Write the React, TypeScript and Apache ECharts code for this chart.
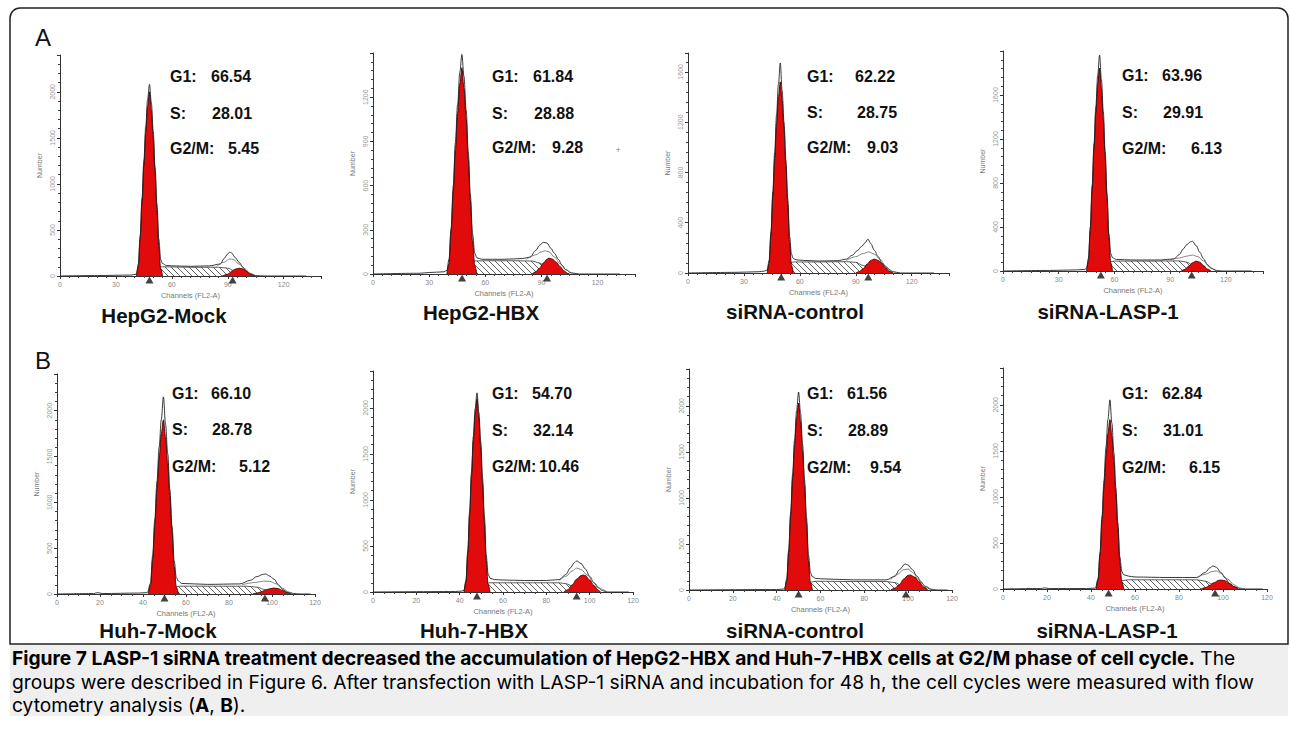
import React, { useEffect, useRef } from "react";
import * as echarts from "echarts";

// ---------- text content ----------
const PANEL_TITLES = ["HepG2-Mock", "HepG2-HBX", "siRNA-control", "siRNA-LASP-1", "Huh-7-Mock", "Huh-7-HBX", "siRNA-control", "siRNA-LASP-1"];
const G1_VALUES = ["66.54", "61.84", "62.22", "63.96", "66.10", "54.70", "61.56", "62.84"];
const S_VALUES = ["28.01", "28.88", "28.75", "29.91", "28.78", "32.14", "28.89", "31.01"];
const G2M_VALUES = ["5.45", "9.28", "9.03", "6.13", "5.12", "10.46", "9.54", "6.15"];

// ---------- axes ----------
const X_MAX = [140, 140, 140, 140, 120, 120, 120, 120];
const X_INTERVAL = [30, 30, 30, 30, 20, 20, 20, 20];
const Y_MAX = [2400, 1500, 1750, 2000, 2400, 2400, 2400, 2400];
const Y_INTERVAL = [500, 300, 400, 400, 500, 500, 500, 500];

// ---------- histogram data (channel, count) ----------
// Panel 1: HepG2-Mock
const P1_G1 = [[41, 0], [42, 100], [43, 400], [44, 800], [45, 1200], [46, 1560], [47, 1840], [48, 2000], [49, 1800], [50, 1500], [51, 1120], [52, 720], [53, 320], [54, 80], [55, 0]];
const P1_G2 = [[87, 0], [90, 20], [92, 50], [94, 75], [96, 85], [98, 78], [100, 55], [102, 25], [104, 8], [105, 0]];
const P1_S = [[44, 0], [46, 30], [48, 70], [51, 95], [55, 100], [70, 95], [85, 95], [90, 85], [93, 60], [96, 30], [99, 10], [102, 0]];
const P1_TOTAL = [[0, 0], [20, 5], [38, 10], [41, 20], [42, 130], [43, 440], [44, 850], [45, 1260], [46, 1630], [47, 1920], [48, 2080], [49, 1880], [50, 1570], [51, 1180], [52, 780], [53, 400], [54, 180], [55, 135], [57, 115], [60, 110], [70, 105], [80, 110], [86, 130], [88, 190], [90, 240], [91, 260], [92, 250], [94, 200], [96, 150], [98, 100], [100, 50], [102, 20], [105, 5], [110, 0], [132, 0]];
const P1_MID = [[84, 105], [88, 150], [91, 185], [93, 180], [96, 130], [99, 80], [102, 30], [105, 5], [107, 0]];
const P1_MARKS = [48, 92.6];

// Panel 2: HepG2-HBX
const P2_G1 = [[39.5, 0], [40.6, 70], [41.7, 280], [42.9, 560], [44, 840], [45.2, 1090], [46.4, 1290], [47.5, 1400], [48.6, 1260], [49.8, 1050], [50.9, 780], [52, 500], [53.2, 220], [54.4, 55], [55.5, 0]];
const P2_G2 = [[85, 0], [87, 15], [89, 40], [91, 75], [93, 100], [94, 108], [96, 100], [98, 80], [100, 50], [102, 22], [104, 5], [105, 0]];
const P2_S = [[43, 0], [46, 30], [49, 65], [53, 88], [60, 90], [75, 90], [85, 88], [89, 75], [92, 50], [95, 25], [98, 8], [100, 0]];
const P2_TOTAL = [[0, 0], [25, 5], [30, 10], [38, 15], [39.5, 25], [40.6, 100], [41.7, 310], [42.9, 600], [44, 890], [45.2, 1150], [46.4, 1370], [47.5, 1490], [48.6, 1340], [49.8, 1110], [50.9, 830], [52, 540], [53.2, 270], [54.4, 140], [55.5, 110], [58, 100], [70, 100], [80, 105], [84, 115], [87, 160], [89, 195], [91, 215], [93, 210], [95, 175], [97, 140], [99, 100], [101, 60], [103, 30], [106, 8], [110, 0], [132, 0]];
const P2_MID = [[82, 100], [87, 130], [90, 150], [92, 158], [94, 150], [97, 115], [100, 70], [103, 30], [106, 5], [108, 0]];
const P2_MARKS = [47.6, 93];

// Panel 3: siRNA-control (HepG2)
const P3_G1 = [[42.5, 0], [43.5, 76], [44.5, 300], [45.5, 610], [46.5, 910], [47.5, 1190], [48.5, 1400], [49.5, 1520], [50.5, 1370], [51.5, 1140], [52.5, 850], [53.5, 550], [54.5, 240], [55.5, 60], [56.5, 0]];
const P3_G2 = [[90, 0], [92, 12], [94, 35], [96, 70], [98, 100], [100, 111], [102, 100], [104, 75], [106, 40], [108, 15], [110, 0]];
const P3_S = [[46, 0], [49, 40], [53, 75], [57, 88], [70, 88], [85, 90], [90, 85], [94, 60], [97, 35], [100, 15], [103, 0]];
const P3_TOTAL = [[0, 0], [25, 5], [38, 10], [41, 15], [42.5, 25], [43.5, 100], [44.5, 330], [45.5, 650], [46.5, 960], [47.5, 1260], [48.5, 1500], [49.5, 1670], [50.5, 1450], [51.5, 1200], [52.5, 900], [53.5, 590], [54.5, 290], [55.5, 150], [56.5, 115], [58, 105], [62, 100], [70, 95], [80, 98], [85, 110], [88, 140], [91, 180], [93, 210], [95, 240], [96.5, 270], [98, 235], [100, 180], [102, 130], [104, 80], [107, 35], [110, 10], [114, 0], [132, 0]];
const P3_MID = [[85, 100], [90, 130], [94, 155], [97, 167], [100, 150], [103, 110], [106, 55], [109, 15], [112, 0]];
const P3_MARKS = [50, 96.7];

// Panel 4: siRNA-LASP-1 (HepG2)
const P4_G1 = [[45, 0], [46, 92], [47, 370], [48, 740], [49, 1110], [50, 1440], [51, 1700], [52, 1845], [53, 1660], [54, 1380], [55, 1030], [56, 660], [57, 300], [58, 75], [59, 0]];
const P4_G2 = [[96, 0], [98, 15], [100, 45], [102, 75], [104, 90], [106, 80], [108, 50], [110, 18], [112, 0]];
const P4_S = [[49, 0], [52, 40], [56, 78], [60, 90], [80, 90], [95, 92], [99, 80], [102, 55], [105, 25], [108, 8], [110, 0]];
const P4_TOTAL = [[0, 0], [25, 5], [40, 10], [44, 15], [45, 25], [46, 115], [47, 400], [48, 780], [49, 1160], [50, 1500], [51, 1780], [52, 1963], [53, 1740], [54, 1450], [55, 1090], [56, 710], [57, 340], [58, 160], [59, 120], [61, 105], [70, 100], [85, 100], [92, 110], [95, 150], [97, 200], [99, 240], [101, 265], [102, 270], [104, 230], [106, 170], [108, 110], [110, 60], [112, 25], [115, 5], [118, 0], [134, 0]];
const P4_MID = [[90, 100], [95, 118], [99, 135], [102, 145], [105, 130], [108, 90], [111, 40], [114, 8], [116, 0]];
const P4_MARKS = [52.7, 101.6];

// Panel 5: Huh-7-Mock
const P5_G1 = [[42.5, 0], [43.5, 95], [44.5, 380], [45.5, 760], [46.5, 1140], [47.5, 1480], [48.5, 1750], [49.5, 1900], [50.5, 1710], [51.5, 1420], [52.5, 1060], [53.5, 680], [54.5, 300], [55.5, 75], [56.5, 0]];
const P5_G2 = [[91, 0], [93, 10], [95, 25], [97, 45], [99, 58], [101, 65], [103, 58], [105, 38], [107, 15], [109, 0]];
const P5_S = [[46, 0], [49, 30], [53, 70], [57, 85], [75, 85], [88, 85], [93, 75], [97, 45], [100, 20], [103, 5], [105, 0]];
const P5_TOTAL = [[0, 0], [17, 5], [19, 15], [21, 5], [38, 10], [42, 15], [43.5, 120], [44.5, 420], [45.5, 820], [46.5, 1230], [47.5, 1600], [48.5, 1900], [49.5, 2150], [50.5, 1850], [51.5, 1530], [52.5, 1140], [53.5, 740], [54.5, 360], [55.5, 180], [56.5, 140], [58, 115], [70, 105], [85, 110], [90, 150], [93, 190], [96, 215], [97, 218], [99, 195], [101, 160], [103, 100], [105, 50], [107, 20], [110, 5], [113, 0], [118, 0]];
const P5_MID = [[86, 100], [92, 125], [96, 140], [99, 138], [102, 110], [105, 60], [108, 20], [110, 0]];
const P5_MARKS = [50, 96.7];

// Panel 6: Huh-7-HBX
const P6_G1 = [[42, 0], [42.9, 105], [43.75, 420], [44.6, 840], [45.45, 1260], [46.3, 1640], [47.15, 1930], [48, 2100], [48.85, 1890], [49.7, 1580], [50.55, 1180], [51.4, 760], [52.25, 340], [53.1, 85], [54, 0]];
const P6_G2 = [[88, 0], [90, 25], [92, 80], [94, 140], [96, 178], [97, 185], [98, 178], [100, 130], [102, 70], [104, 20], [105, 0]];
const P6_S = [[45, 0], [48, 40], [51, 80], [54, 100], [70, 100], [86, 100], [89, 90], [92, 65], [95, 35], [98, 12], [100, 0]];
const P6_TOTAL = [[0, 0], [38, 5], [41, 10], [42, 20], [42.9, 130], [43.75, 450], [44.6, 880], [45.45, 1300], [46.3, 1690], [47.15, 1990], [48, 2163], [48.85, 1950], [49.7, 1640], [50.55, 1240], [51.4, 820], [52.25, 400], [53.1, 200], [54, 150], [56, 135], [60, 130], [70, 125], [80, 125], [86, 135], [89, 190], [91, 260], [93, 320], [94, 337], [96, 310], [98, 250], [100, 170], [102, 100], [104, 45], [106, 15], [108, 0], [118, 0]];
const P6_MID = [[86, 125], [89, 170], [92, 230], [94, 260], [96, 245], [99, 180], [102, 100], [105, 35], [108, 0]];
const P6_MARKS = [48, 94];

// Panel 7: siRNA-control (Huh-7)
const P7_G1 = [[43.7, 0], [44.6, 100], [45.5, 410], [46.4, 810], [47.3, 1220], [48.2, 1580], [49.1, 1870], [50, 2030], [50.9, 1830], [51.8, 1520], [52.7, 1140], [53.6, 730], [54.5, 320], [55.4, 80], [56.3, 0]];
const P7_G2 = [[92, 0], [94, 20], [96, 60], [98, 120], [100, 160], [101, 163], [103, 140], [105, 90], [107, 35], [109, 0]];
const P7_S = [[47, 0], [50, 40], [54, 80], [58, 95], [75, 92], [90, 92], [94, 80], [97, 50], [100, 20], [103, 5], [105, 0]];
const P7_TOTAL = [[0, 0], [40, 5], [43, 10], [43.7, 20], [44.6, 125], [45.5, 440], [46.4, 850], [47.3, 1270], [48.2, 1640], [49.1, 1950], [50, 2150], [50.9, 1920], [51.8, 1590], [52.7, 1200], [53.6, 790], [54.5, 380], [55.4, 190], [56.3, 145], [58, 125], [62, 120], [75, 110], [90, 110], [94, 150], [96, 220], [98.6, 283], [100, 270], [102, 220], [104, 150], [106, 80], [108, 35], [110, 10], [113, 0], [118, 0]];
const P7_MID = [[92, 110], [95, 170], [98, 220], [100, 228], [102, 190], [105, 110], [108, 40], [111, 5], [113, 0]];
const P7_MARKS = [50, 99];

// Panel 8: siRNA-LASP-1 (Huh-7)
const P8_G1 = [[42.3, 0], [43.2, 92], [44.1, 370], [45, 740], [45.9, 1100], [46.8, 1440], [47.7, 1690], [48.6, 1840], [49.5, 1660], [50.4, 1380], [51.3, 1030], [52.2, 660], [53.1, 290], [54, 75], [54.9, 0]];
const P8_G2 = [[90, 0], [92, 15], [94, 40], [96, 70], [98, 95], [99, 98], [101, 90], [103, 60], [105, 25], [107, 0]];
const P8_S = [[46, 0], [49, 40], [53, 85], [57, 100], [75, 100], [88, 100], [92, 85], [95, 55], [98, 25], [101, 8], [103, 0]];
const P8_TOTAL = [[0, 0], [17, 5], [19, 12], [21, 5], [38, 5], [42, 10], [43.2, 115], [44.1, 400], [45, 790], [45.9, 1180], [46.8, 1540], [47.7, 1840], [48.6, 2054], [49.5, 1800], [50.4, 1480], [51.3, 1100], [52.2, 720], [53.1, 350], [54, 190], [54.9, 155], [57, 140], [60, 130], [75, 125], [88, 125], [92, 180], [94, 230], [95.5, 250], [97, 235], [99, 180], [101, 120], [103, 60], [105, 25], [108, 5], [110, 0], [118, 0]];
const P8_MID = [[88, 120], [92, 160], [95, 190], [97, 196], [99, 170], [102, 110], [105, 45], [108, 8], [110, 0]];
const P8_MARKS = [48, 96.4];

// ---------- layout (px) ----------
const GRID_LAYOUT = [
  [60, 55, 261, 221],
  [373, 53, 262, 221],
  [688, 53, 261, 220],
  [1003, 51, 260, 220],
  [57, 374, 258, 220],
  [373, 371, 260, 221],
  [689, 369, 263, 221],
  [1003, 368, 264, 221],
];
// [labelX, g1ValueX, sValueX, g2mValueX, yG1, yS, yG2M]
const STAT_LAYOUT = [
  [170, 211, 212, 228, 76, 113, 148],
  [492, 533, 534, 552, 76, 113, 147],
  [807, 855, 857, 867, 76, 112, 147],
  [1122, 1162, 1163, 1191, 75, 112, 148],
  [172, 211, 212, 239, 393, 429, 466],
  [492, 532, 533, 539, 393, 430, 466],
  [807, 847, 848, 870, 393, 430, 467],
  [1122, 1162, 1163, 1189, 393, 430, 467],
];
const TITLE_LAYOUT = [
  [164, 315], [481, 312], [795, 311], [1108, 311],
  [158, 630], [474, 630], [795, 630], [1107, 630],
];

const RED = "#e10b0b";
const ARIAL = '"Liberation Sans", Arial, sans-serif';
const CAPTION_FONT = 'Inter, "Open Sans", sans-serif';

export default function App() {
  const ref = useRef<HTMLDivElement>(null);

  useEffect(() => {
    if (!ref.current) return;
    const chart = echarts.init(ref.current, null, { renderer: "svg" });

    // hatch pattern
    const cv = document.createElement("canvas");
    cv.width = 6;
    cv.height = 6;
    const ctx = cv.getContext("2d")!;
    ctx.fillStyle = "#ffffff";
    ctx.fillRect(0, 0, 6, 6);
    ctx.strokeStyle = "#555555";
    ctx.lineWidth = 0.9;
    ctx.beginPath();
    ctx.moveTo(0, 0);
    ctx.lineTo(6, 6);
    ctx.moveTo(-1, 5);
    ctx.lineTo(1, 7);
    ctx.moveTo(5, -1);
    ctx.lineTo(7, 1);
    ctx.stroke();
    const hatch: any = { image: cv, repeat: "repeat", imageWidth: 6, imageHeight: 6 };

    const panels = [
      { g1: P1_G1, g2: P1_G2, s: P1_S, total: P1_TOTAL, mid: P1_MID, marks: P1_MARKS },
      { g1: P2_G1, g2: P2_G2, s: P2_S, total: P2_TOTAL, mid: P2_MID, marks: P2_MARKS },
      { g1: P3_G1, g2: P3_G2, s: P3_S, total: P3_TOTAL, mid: P3_MID, marks: P3_MARKS },
      { g1: P4_G1, g2: P4_G2, s: P4_S, total: P4_TOTAL, mid: P4_MID, marks: P4_MARKS },
      { g1: P5_G1, g2: P5_G2, s: P5_S, total: P5_TOTAL, mid: P5_MID, marks: P5_MARKS },
      { g1: P6_G1, g2: P6_G2, s: P6_S, total: P6_TOTAL, mid: P6_MID, marks: P6_MARKS },
      { g1: P7_G1, g2: P7_G2, s: P7_S, total: P7_TOTAL, mid: P7_MID, marks: P7_MARKS },
      { g1: P8_G1, g2: P8_G2, s: P8_S, total: P8_TOTAL, mid: P8_MID, marks: P8_MARKS },
    ];

    const grid = GRID_LAYOUT.map(([l, t, w, h]) => ({ left: l, top: t, width: w, height: h, containLabel: false }));

    const axisLineStyle = { color: "#333", width: 1 };
    const xAxis = panels.map((_, i) => ({
      type: "value",
      gridIndex: i,
      min: 0,
      max: X_MAX[i],
      interval: X_INTERVAL[i],
      name: "Channels (FL2-A)",
      nameLocation: "middle",
      nameGap: 15,
      nameTextStyle: { fontSize: 7.5, color: "#777", fontFamily: ARIAL },
      axisLine: { show: true, lineStyle: axisLineStyle },
      axisTick: { show: true, length: 3, lineStyle: { color: "#333" } },
      minorTick: { show: true, splitNumber: X_INTERVAL[i] === 30 ? 6 : 4, length: 2, lineStyle: { color: "#444" } },
      splitLine: { show: false },
      axisLabel: {
        fontSize: 7,
        color: "#888",
        margin: 5,
        fontFamily: ARIAL,
        formatter: (v: number) => (v % X_INTERVAL[i] === 0 ? String(v) : ""),
      },
    }));
    const yAxis = panels.map((_, i) => ({
      type: "value",
      gridIndex: i,
      min: 0,
      max: Y_MAX[i],
      interval: Y_INTERVAL[i],
      name: "Number",
      nameLocation: "middle",
      nameGap: 17,
      nameRotate: 90,
      nameTextStyle: { fontSize: 7, color: "#777", fontFamily: ARIAL },
      axisLine: { show: true, lineStyle: axisLineStyle },
      axisTick: { show: true, length: 3, lineStyle: { color: "#333" } },
      minorTick: { show: true, splitNumber: 5, length: 2, lineStyle: { color: "#444" } },
      splitLine: { show: false },
      axisLabel: {
        fontSize: 7,
        color: "#999",
        rotate: 90,
        margin: 4,
        showMaxLabel: false,
        fontFamily: ARIAL,
        formatter: (v: number) => (v % Y_INTERVAL[i] === 0 ? String(v) : ""),
      },
    }));

    const series: any[] = [];
    panels.forEach((p, i) => {
      const base = { xAxisIndex: i, yAxisIndex: i, silent: true, symbol: "none", showSymbol: false, smooth: 0.35, smoothMonotone: "x" };
      series.push({
        ...base,
        type: "line",
        name: `S-${i}`,
        data: p.s,
        z: 2,
        lineStyle: { color: "#333", width: 0.8 },
        areaStyle: { color: hatch, opacity: 1 },
      });
      series.push({
        ...base,
        type: "line",
        name: `G2-${i}`,
        data: p.g2,
        z: 3,
        lineStyle: { color: "#3a0000", width: 0.8 },
        areaStyle: { color: RED, opacity: 1 },
      });
      series.push({
        ...base,
        type: "line",
        name: `G1-${i}`,
        data: p.g1,
        z: 4,
        lineStyle: { color: "#3a0000", width: 0.9 },
        areaStyle: { color: RED, opacity: 1 },
      });
      series.push({
        ...base,
        type: "line",
        name: `total-${i}`,
        data: p.total,
        z: 5,
        lineStyle: { color: "#222", width: 0.9 },
      });
      series.push({
        ...base,
        type: "line",
        name: `mid-${i}`,
        data: p.mid,
        z: 5,
        lineStyle: { color: "#666", width: 0.8 },
      });
      series.push({
        type: "scatter",
        xAxisIndex: i,
        yAxisIndex: i,
        silent: true,
        name: `marks-${i}`,
        data: p.marks.map((m) => [m, 0]),
        symbol: "triangle",
        symbolSize: [8, 7],
        symbolOffset: [0, 4],
        itemStyle: { color: "#111" },
        z: 6,
      });
    });

    const graphic: any[] = [];
    // caption background
    graphic.push({ type: "rect", shape: { x: 10, y: 644, width: 1278, height: 72 }, style: { fill: "#efefef" }, z: -10 });
    // frame
    graphic.push({
      type: "rect",
      shape: { x: 10, y: 8, width: 1278, height: 636, r: [10, 10, 0, 0] },
      style: { fill: "none", stroke: "#222", lineWidth: 1.5 },
      z: 10,
    });
    // section letters
    graphic.push({ type: "text", x: 35, y: 37, style: { text: "A", font: `24px ${ARIAL}`, fill: "#111", verticalAlign: "middle" } });
    graphic.push({ type: "text", x: 35, y: 360, style: { text: "B", font: `24px ${ARIAL}`, fill: "#111", verticalAlign: "middle" } });

    const statFont = `bold 16px ${ARIAL}`;
    STAT_LAYOUT.forEach(([lx, v1x, v2x, v3x, y1, y2, y3], i) => {
      const mk = (x: number, y: number, t: string) => ({
        type: "text",
        x,
        y,
        z: 20,
        style: { text: t, font: statFont, fill: "#111", verticalAlign: "middle", align: "left" },
      });
      graphic.push(mk(lx, y1, "G1:"));
      graphic.push(mk(v1x, y1, G1_VALUES[i]));
      graphic.push(mk(lx, y2, "S:"));
      graphic.push(mk(v2x, y2, S_VALUES[i]));
      graphic.push(mk(lx, y3, "G2/M:"));
      graphic.push(mk(v3x, y3, G2M_VALUES[i]));
    });
    graphic.push({ type: "text", x: 618, y: 150, style: { text: "+", font: `9px ${ARIAL}`, fill: "#888", align: "center", verticalAlign: "middle" } });

    TITLE_LAYOUT.forEach(([x, y], i) => {
      graphic.push({
        type: "text",
        x,
        y,
        z: 20,
        style: { text: PANEL_TITLES[i], font: `bold 20.5px ${ARIAL}`, fill: "#111", align: "center", verticalAlign: "middle" },
      });
    });

    // caption
    const capRich = {
      b: { fontFamily: CAPTION_FONT, fontWeight: "bold", fontSize: 19.2, lineHeight: 22, color: "#1a1a1a" },
      r: { fontFamily: CAPTION_FONT, fontSize: 19.2, lineHeight: 22, color: "#3a3a3a" },
    };
    const capLines = [
      "{b|Figure 7 LASP-1 siRNA treatment decreased the accumulation of HepG2-HBX and Huh-7-HBX cells at G2/M phase of cell cycle.}{r| The}",
      "{r|groups were described in Figure 6. After transfection with LASP-1 siRNA and incubation for 48 h, the cell cycles were measured with flow}",
      "{r|cytometry analysis (}{b|A}{r|, }{b|B}{r|).}",
    ];
    const capY = [658, 681.5, 705];
    capLines.forEach((t, k) => {
      graphic.push({
        type: "text",
        x: 12,
        y: capY[k],
        z: 20,
        style: { text: t, rich: capRich, verticalAlign: "middle", align: "left" },
      });
    });

    chart.setOption({
      animation: false,
      backgroundColor: "#ffffff",
      grid,
      xAxis,
      yAxis,
      series,
      graphic,
    });

    return () => chart.dispose();
  }, []);

  return (
    <div
      ref={ref}
      style={{ position: "fixed", left: 0, top: 0, width: 1290, height: 741, background: "#fff" }}
    />
  );
}
